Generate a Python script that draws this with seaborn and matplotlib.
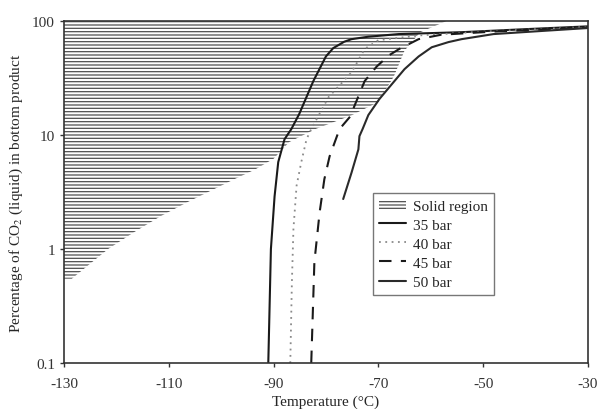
import numpy as np
import pandas as pd
import seaborn as sns
import matplotlib.pyplot as plt
from matplotlib.ticker import NullLocator

# boundary of the solid (hatched) region: temperature vs % CO2
solid_T = [-128.5, -121.6, -116.6, -111.5, -106.3, -97.5, -93.5, -90.0, -87.0,
           -82.0, -75.0, -70.0, -67.0, -65.0, -62.0, -57.0]
solid_pct = [0.55, 1.0, 1.41, 1.95, 2.6, 4.1, 5.0, 6.2, 8.7,
             11.3, 15.0, 19.5, 33.0, 55.0, 80.0, 100.0]

# pressure curves
t35 = [-91.0, -90.5, -89.8, -89.1, -87.9, -86.6, -85.1, -82.4, -80.0, -78.6,
       -76.5, -75.1, -71.9, -66.1, -54.1, -42.0, -30.0]
p35 = [0.1, 1.0, 2.9, 5.8, 9.2, 11.3, 15.3, 29.8, 49.0, 58.0,
       66.0, 69.5, 73.0, 77.0, 80.0, 85.0, 90.0]

t40 = [-86.8, -86.5, -86.2, -85.6, -84.7, -83.7, -82.8, -79.5, -75.1, -72.6,
       -70.0, -62.0, -50.0, -30.0]
p40 = [0.1, 0.5, 1.5, 3.6, 5.8, 9.2, 11.3, 21.5, 35.6, 57.0,
       68.0, 75.0, 81.0, 89.0]

t45 = [-82.8, -82.2, -81.2, -80.3, -79.3, -77.4, -75.4, -72.6, -70.3, -68.0,
       -66.0, -62.3, -58.0, -48.0, -30.0]
p45 = [0.1, 0.77, 2.1, 4.1, 6.5, 11.3, 14.5, 29.8, 40.0, 50.0,
       57.0, 69.5, 76.0, 81.0, 88.0]

t50 = [-76.7, -75.1, -73.8, -73.6, -73.0, -71.9, -69.8, -68.0, -65.0, -62.3,
       -59.8, -56.6, -54.1, -48.0, -38.8, -30.0]
p50 = [2.75, 4.7, 7.5, 9.8, 11.3, 15.0, 20.7, 26.0, 37.9, 49.0,
       59.0, 65.5, 69.5, 77.0, 82.0, 87.0]

xticks = [-130, -110, -90, -70, -50, -30]
yticks = [0.1, 1, 10, 100]
ytick_labels = ['0.1', '1', '10', '100']

sns.set_style('ticks')
plt.rcParams['font.family'] = ['Liberation Serif', 'DejaVu Serif']
plt.rcParams['mathtext.fontset'] = 'stix'
plt.rcParams['hatch.linewidth'] = 0.9

fig = plt.figure(figsize=(5.98, 4.10), dpi=100)
ax = fig.add_axes([0.107, 0.112, 0.876, 0.834])
ax.grid(False)

# solid region drawn as horizontal hatching
ax.fill_betweenx(solid_pct, -130, solid_T, facecolor='none', edgecolor='#505050',
                 hatch='-----', linewidth=0, label='Solid region')

sns.lineplot(x=t35, y=p35, sort=False, estimator=None, ax=ax, color='#1a1a1a',
             lw=1.5, label='35 bar')
sns.lineplot(x=t40, y=p40, sort=False, estimator=None, ax=ax, color='#8a8a8a',
             lw=1.3, linestyle=(0, (1, 2.5)), label='40 bar')
sns.lineplot(x=t45, y=p45, sort=False, estimator=None, ax=ax, color='#1a1a1a',
             lw=1.5, linestyle=(0, (6, 4.5)), label='45 bar')
sns.lineplot(x=t50, y=p50, sort=False, estimator=None, ax=ax, color='#2a2a2a',
             lw=1.5, label='50 bar')

ax.set_yscale('log')
ax.set_xlim(-130, -30)
ax.set_ylim(0.1, 100)
ax.set_xticks(xticks)
ax.set_xticklabels([str(t) for t in xticks])
ax.set_yticks(yticks)
ax.set_yticklabels(ytick_labels)
ax.yaxis.set_minor_locator(NullLocator())
ax.tick_params(labelsize=11, length=3, width=1, colors='#333333')
ax.tick_params(axis='x', pad=7)

for s in ax.spines.values():
    s.set_linewidth(1.2)
    s.set_color('#333333')

ax.set_xlabel('Temperature (\u00b0C)', fontsize=11, labelpad=3)
ax.set_ylabel('Percentage of CO$_2$ (liquid) in bottom product', fontsize=11, labelpad=5)

leg = ax.legend(loc='upper left', bbox_to_anchor=(0.575, 0.52), fontsize=11,
                fancybox=False, edgecolor='#777777', framealpha=1,
                handlelength=1.8, handletextpad=0.4, labelspacing=0.35,
                borderpad=0.4)
leg.get_frame().set_linewidth(1.0)

fig.savefig('out.png', dpi=100)
